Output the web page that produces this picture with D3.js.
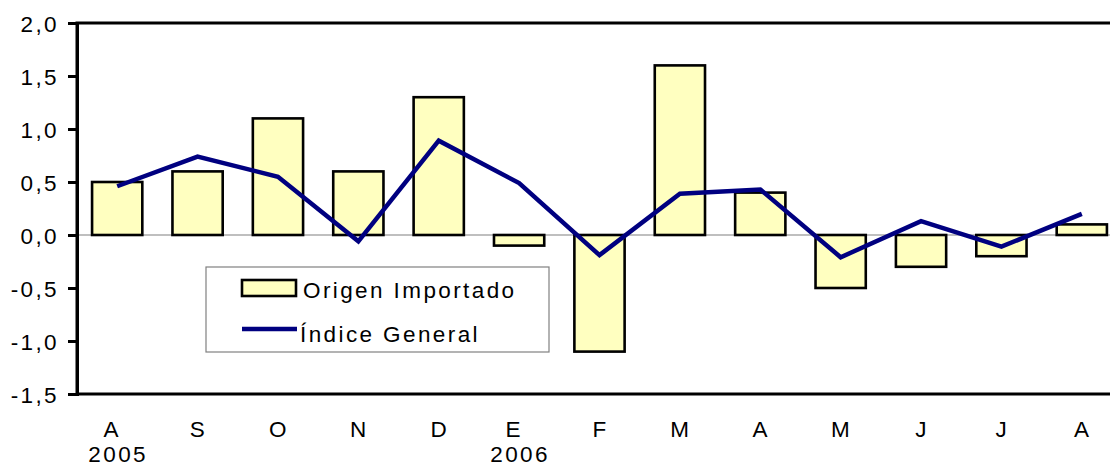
<!DOCTYPE html>
<html>
<head>
<meta charset="utf-8">
<script src="https://cdn.jsdelivr.net/npm/d3@7"></script>
<style>
  body { margin: 0; background: #fff; }
  svg text { font-family: "Liberation Sans", Arial, sans-serif; font-size: 22.5px; letter-spacing: 2.4px; fill: #000; }
</style>
</head>
<body>
<div id="chart"></div>
<script>
// months Aug 2005 - Aug 2006
var months = ["A", "S", "O", "N", "D", "E", "F", "M", "A", "M", "J", "J", "A"];
var years = ["2005", "", "", "", "", "2006", "", "", "", "", "", "", ""];
var importado = [0.5, 0.6, 1.1, 0.6, 1.3, -0.1, -1.1, 1.6, 0.4, -0.5, -0.3, -0.2, 0.1];
var general = [0.46, 0.74, 0.55, -0.06, 0.89, 0.49, -0.19, 0.39, 0.43, -0.21, 0.13, -0.11, 0.2];
var yTicks = [2.0, 1.5, 1.0, 0.5, 0.0, -0.5, -1.0, -1.5];

var width = 1110, height = 466;
var plot = {left: 77, top: 23, right: 1122, bottom: 394};

var svg = d3.select("#chart").append("svg")
    .attr("width", width)
    .attr("height", height);

var idx = d3.range(months.length);

var x = d3.scaleBand()
    .domain(idx)
    .range([plot.left, plot.right])
    .paddingInner(0.375)
    .paddingOuter(0.1875);

var xc = function(i) { return x(i) + x.bandwidth() / 2; };

var y = d3.scaleLinear()
    .domain([-1.5, 2.0])
    .range([plot.bottom, plot.top]);

var fmt = function(d) { return d.toFixed(1).replace(".", ","); };

// plot frame
svg.append("rect")
    .attr("x", plot.left)
    .attr("y", plot.top)
    .attr("width", plot.right - plot.left)
    .attr("height", plot.bottom - plot.top)
    .attr("fill", "none")
    .attr("stroke", "#000")
    .attr("stroke-width", 3);

// zero line
svg.append("line")
    .attr("x1", plot.left)
    .attr("x2", plot.right)
    .attr("y1", y(0))
    .attr("y2", y(0))
    .attr("stroke", "#808080")
    .attr("stroke-width", 1.2);

// y axis
var yAxis = svg.append("g")
    .attr("transform", "translate(" + plot.left + ",0)")
    .call(d3.axisLeft(y).tickValues(yTicks).tickFormat(fmt).tickSize(9).tickPadding(9));
yAxis.select(".domain").attr("stroke-width", 3);
yAxis.selectAll(".tick line").attr("stroke-width", 3);
yAxis.selectAll(".tick text")
    .attr("font-family", null)
    .attr("font-size", null)
    .attr("dy", "0.36em");

// bars
svg.selectAll(".bar")
    .data(idx)
  .enter().append("rect")
    .attr("class", "bar")
    .attr("x", function(i) { return x(i); })
    .attr("y", function(i) { return y(Math.max(0, importado[i])); })
    .attr("width", x.bandwidth())
    .attr("height", function(i) { return Math.abs(y(importado[i]) - y(0)); })
    .attr("fill", "#FFFFC0")
    .attr("stroke", "#000")
    .attr("stroke-width", 2.6);

// line
var line = d3.line()
    .x(function(i) { return xc(i); })
    .y(function(i) { return y(general[i]); });

svg.append("path")
    .datum(idx)
    .attr("d", line)
    .attr("fill", "none")
    .attr("stroke", "#000080")
    .attr("stroke-width", 4.5)
    .attr("stroke-linejoin", "miter");

// x labels
svg.selectAll(".month")
    .data(idx)
  .enter().append("text")
    .attr("class", "month")
    .attr("x", function(i) { return xc(i) + (years[i] ? -5 : 1); })
    .attr("y", 437)
    .attr("text-anchor", "middle")
    .text(function(i) { return months[i]; });

svg.selectAll(".year")
    .data(idx.filter(function(i) { return years[i]; }))
  .enter().append("text")
    .attr("class", "year")
    .attr("x", function(i) { return xc(i) + 1; })
    .attr("y", 462)
    .attr("text-anchor", "middle")
    .text(function(i) { return years[i]; });

// legend
var lg = svg.append("g");
lg.append("rect")
    .attr("x", 206).attr("y", 267)
    .attr("width", 343).attr("height", 85)
    .attr("fill", "#fff")
    .attr("stroke", "#808080")
    .attr("stroke-width", 1.2);
lg.append("rect")
    .attr("x", 242).attr("y", 280)
    .attr("width", 54).attr("height", 16)
    .attr("fill", "#FFFFC0")
    .attr("stroke", "#000")
    .attr("stroke-width", 2.6);
lg.append("text")
    .attr("x", 303).attr("y", 298)
    .text("Origen Importado");
lg.append("line")
    .attr("x1", 242).attr("x2", 297)
    .attr("y1", 329).attr("y2", 329)
    .attr("stroke", "#000080")
    .attr("stroke-width", 4.5);
lg.append("text")
    .attr("x", 300).attr("y", 342)
    .text("Índice General");
</script>
</body>
</html>
